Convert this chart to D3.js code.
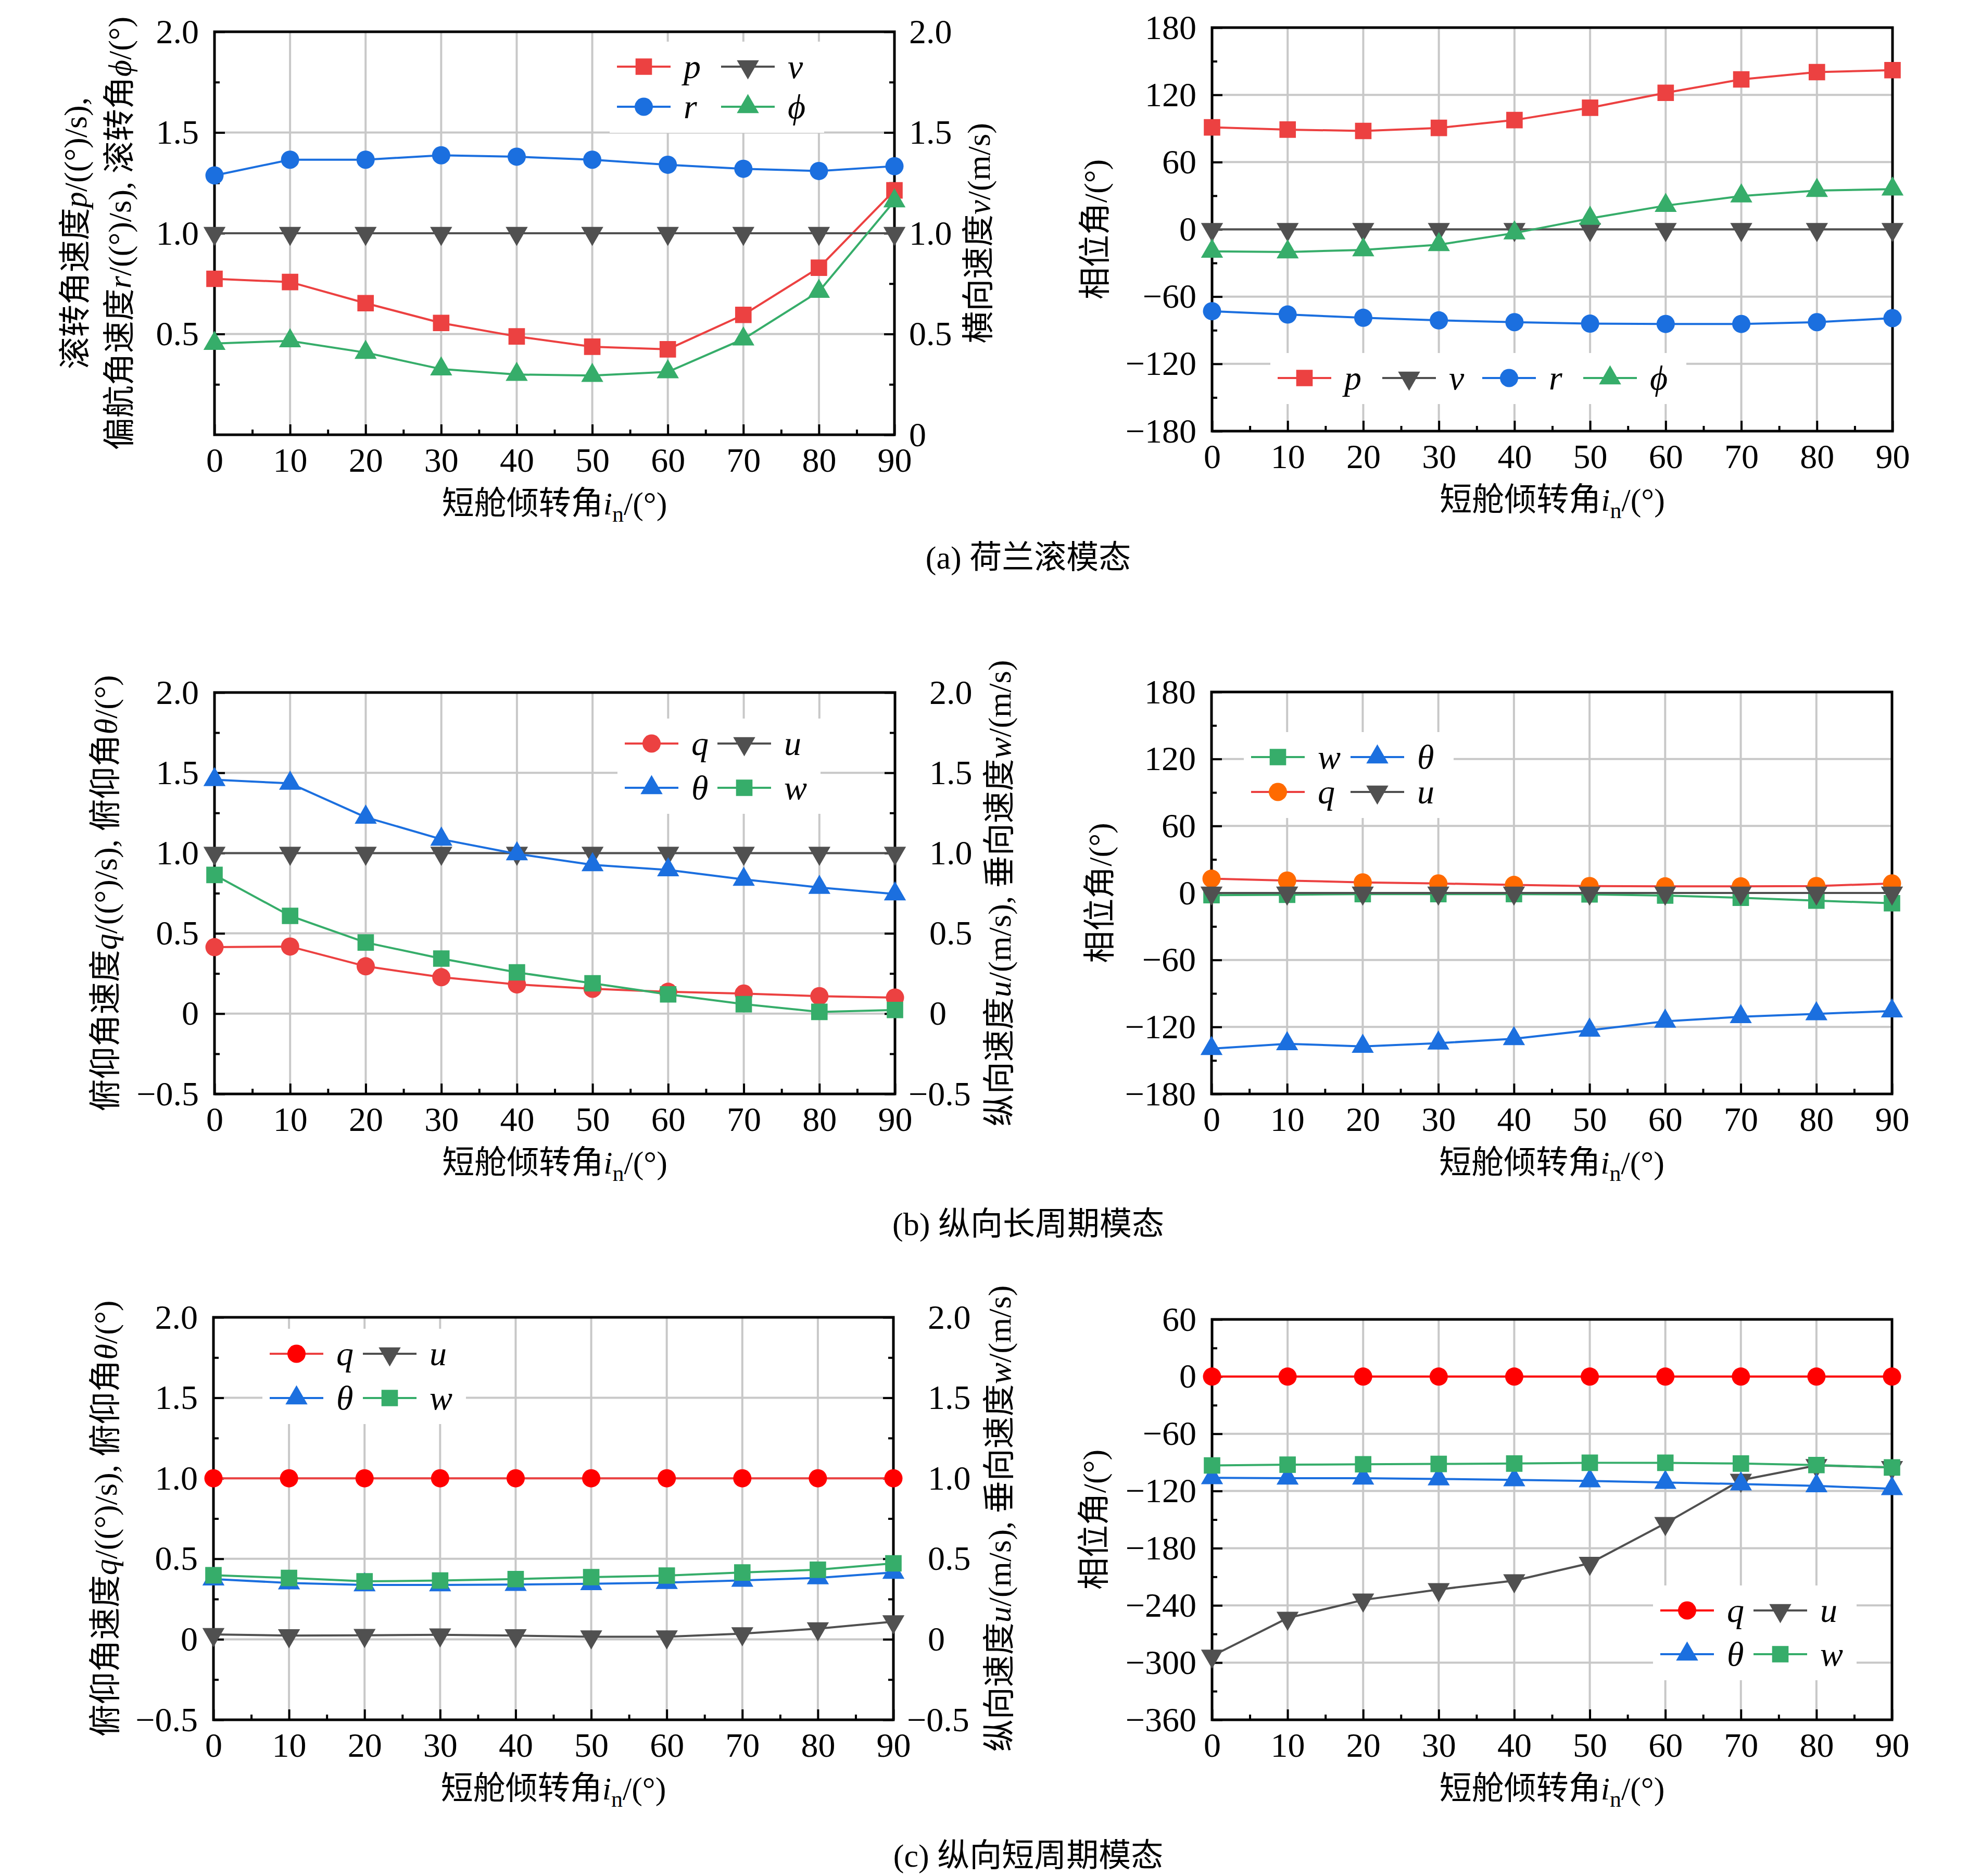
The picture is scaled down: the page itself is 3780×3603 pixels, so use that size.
<!DOCTYPE html>
<html>
<head>
<meta charset="utf-8">
<script src="https://cdn.jsdelivr.net/npm/d3@7"></script>
<style>
  body { margin: 0; background: #fff; }
</style>
</head>
<body>
<div id="chart"></div>
<script>
// x values shared by every panel: nacelle tilt angle
var tiltAngles = [0, 10, 20, 30, 40, 50, 60, 70, 80, 90];
var xMinorTicks = [5, 15, 25, 35, 45, 55, 65, 75, 85];

// tick values
var dutchAmpLeftTicks = [0.5, 1.0, 1.5, 2.0];
var dutchAmpRightTicks = [0, 0.5, 1.0, 1.5, 2.0];
var dutchAmpMinor = [0.25, 0.75, 1.25, 1.75];
var ampTicks = [-0.5, 0, 0.5, 1.0, 1.5, 2.0];
var ampMinor = [-0.25, 0.25, 0.75, 1.25, 1.75];
var phaseTicks = [-180, -120, -60, 0, 60, 120, 180];
var phaseMinor = [-150, -90, -30, 30, 90, 150];
var spPhaseTicks = [-360, -300, -240, -180, -120, -60, 0, 60];
var spPhaseMinor = [-330, -270, -210, -150, -90, -30, 30];

// (a) dutch roll - amplitude
var drAmpP   = [0.774, 0.758, 0.653, 0.555, 0.488, 0.437, 0.424, 0.595, 0.829, 1.213];
var drAmpV   = [1.0, 1.0, 1.0, 1.0, 1.0, 1.0, 1.0, 1.0, 1.0, 1.0];
var drAmpR   = [1.287, 1.365, 1.365, 1.387, 1.380, 1.365, 1.340, 1.320, 1.309, 1.333];
var drAmpPhi = [0.453, 0.466, 0.408, 0.326, 0.299, 0.294, 0.312, 0.475, 0.711, 1.160];
// (a) dutch roll - phase
var drPhP   = [91.0, 89.0, 87.8, 90.5, 97.5, 108.5, 121.8, 133.8, 140.3, 142.0];
var drPhV   = [0, 0, 0, 0, 0, 0, 0, 0, 0, 0];
var drPhR   = [-73.0, -76.0, -78.9, -81.2, -82.8, -84.1, -84.4, -84.4, -82.8, -79.2];
var drPhPhi = [-19.6, -20.2, -18.3, -13.7, -3.3, 9.8, 21.2, 29.7, 34.6, 35.9];

// (b) phugoid - amplitude
var phAmpQ     = [0.414, 0.418, 0.295, 0.227, 0.182, 0.155, 0.136, 0.125, 0.109, 0.100];
var phAmpU     = [1.0, 1.0, 1.0, 1.0, 1.0, 1.0, 1.0, 1.0, 1.0, 1.0];
var phAmpTheta = [1.457, 1.434, 1.223, 1.086, 0.995, 0.927, 0.895, 0.836, 0.786, 0.745];
var phAmpW     = [0.864, 0.609, 0.443, 0.343, 0.257, 0.189, 0.120, 0.059, 0.011, 0.023];
// (b) phugoid - phase
var phPhW     = [-2.0, -1.6, -1.0, -1.0, -1.0, -1.3, -2.3, -4.3, -6.9, -9.2];
var phPhTheta = [-139.4, -135.1, -137.4, -134.5, -130.6, -123.0, -114.9, -110.9, -108.3, -105.7];
var phPhQ     = [12.8, 11.1, 9.5, 8.5, 7.2, 6.2, 5.9, 5.9, 6.2, 8.5];
var phPhU     = [0, 0, 0, 0, 0, 0, 0, 0, 0, 0];

// (c) short period - amplitude
var spAmpQ     = [1.0, 1.0, 1.0, 1.0, 1.0, 1.0, 1.0, 1.0, 1.0, 1.0];
var spAmpU     = [0.030, 0.023, 0.025, 0.028, 0.023, 0.016, 0.016, 0.035, 0.066, 0.110];
var spAmpTheta = [0.374, 0.350, 0.338, 0.338, 0.340, 0.345, 0.352, 0.366, 0.381, 0.415];
var spAmpW     = [0.398, 0.381, 0.360, 0.365, 0.374, 0.386, 0.396, 0.415, 0.432, 0.472];
// (c) short period - phase
var spPhQ     = [0, 0, 0, 0, 0, 0, 0, 0, 0, 0];
var spPhU     = [-293.1, -253.3, -234.3, -223.3, -214.0, -195.8, -154.0, -108.6, -93.2, -95.3];
var spPhTheta = [-106.2, -106.6, -106.6, -107.4, -108.3, -109.5, -111.1, -112.7, -114.7, -117.6];
var spPhW     = [-93.2, -92.4, -92.0, -91.6, -91.2, -90.4, -90.4, -91.2, -92.8, -95.3];

var W = 3780, H = 3603;
var FONT = "'Liberation Serif','Times New Roman','Noto Sans CJK SC',serif";
var RED = "#ec4141", BLUE = "#1b6fdf", GREEN = "#36ad6a", DARK = "#505050",
    PURE_RED = "#ff0000", ORANGE = "#ff6a00", GRID = "#c8c8c8";
var TICK_FS = 66, LABEL_FS = 62, LEGEND_FS = 66;

var ampFmt = function(d) { return d === 0 ? "0" : d3.format(".1f")(d); };
var phaseFmt = d3.format("d");

var svg = d3.select("#chart").append("svg")
    .attr("width", W).attr("height", H)
    .attr("viewBox", "0 0 " + W + " " + H)
    .style("font-family", FONT)
    .style("background", "#fff");

//marker shapes
function markerPath(kind) {
  var s = { circle: [d3.symbolCircle, 962], square: [d3.symbolSquare, 1000],
            up: [d3.symbolTriangle, 780], down: [d3.symbolTriangle, 780] }[kind];
  return d3.symbol().type(s[0]).size(s[1])();
}

//text with italic / subscript pieces
function richText(sel, parts) {
  parts.forEach(function(pt) {
    var t = sel.append("tspan").text(pt[0]);
    if (pt[1] === "i") t.style("font-style", "italic");
  });
  return sel;
}

function xLabel(sel) {
  sel.append("tspan").text("短舱倾转角");
  sel.append("tspan").style("font-style", "italic").text("i");
  sel.append("tspan").attr("font-size", 44).attr("dy", 14).text("n");
  sel.append("tspan").attr("dy", -14).text("/(°)");
}

function drawPanel(p) {
  var g = svg.append("g").attr("transform", "translate(" + p.x + "," + p.y + ")");
  var x = d3.scaleLinear().domain([0, 90]).range([0, p.w]);
  var y = d3.scaleLinear().domain(p.yDomain).range([p.h, 0]);
  var yR = d3.scaleLinear().domain(p.yDomain).range([p.h, 0]);

  // grid
  g.append("g").selectAll("line").data(tiltAngles.slice(1, -1)).join("line")
    .attr("x1", function(d){ return x(d); }).attr("x2", function(d){ return x(d); })
    .attr("y1", 0).attr("y2", p.h)
    .attr("stroke", GRID).attr("stroke-width", 4);
  g.append("g").selectAll("line")
    .data(p.grid.filter(function(d){ return d > p.yDomain[0] && d < p.yDomain[1]; }))
    .join("line")
    .attr("x1", 0).attr("x2", p.w)
    .attr("y1", function(d){ return y(d); }).attr("y2", function(d){ return y(d); })
    .attr("stroke", GRID).attr("stroke-width", 4);

  // axes, ticks inward
  var axes = [];
  axes.push(g.append("g").attr("transform", "translate(0," + p.h + ")")
    .call(d3.axisBottom(x).tickValues(tiltAngles).tickSizeInner(-20).tickSizeOuter(0)
      .tickPadding(24).tickFormat(d3.format("d"))));
  axes.push(g.append("g").attr("transform", "translate(0," + p.h + ")")
    .call(d3.axisBottom(x).tickValues(xMinorTicks).tickSizeInner(-10).tickSizeOuter(0).tickFormat("")));
  axes.push(g.append("g")
    .call(d3.axisLeft(y).tickValues(p.leftTicks).tickSizeInner(-20).tickSizeOuter(0)
      .tickPadding(30).tickFormat(p.fmt)));
  axes.push(g.append("g")
    .call(d3.axisLeft(y).tickValues(p.minor).tickSizeInner(-10).tickSizeOuter(0).tickFormat("")));
  if (p.rightTicks) {
    var ra = g.append("g").attr("transform", "translate(" + p.w + ",0)")
      .call(d3.axisRight(yR).tickValues(p.rightTicks).tickSizeInner(-20).tickSizeOuter(0)
        .tickPadding(p.rightPad).tickFormat(p.fmt));
    ra.selectAll("text").attr("dx", function(d){ return d < 0 ? -40 : 0; });
    axes.push(ra);
    axes.push(g.append("g").attr("transform", "translate(" + p.w + ",0)")
      .call(d3.axisRight(yR).tickValues(p.minor).tickSizeInner(-10).tickSizeOuter(0).tickFormat("")));
  }
  axes.forEach(function(a) {
    a.attr("font-family", FONT).attr("font-size", TICK_FS);
    a.select(".domain").remove();
    a.selectAll("line").attr("stroke", "#000").attr("stroke-width", 4);
    a.selectAll("text").attr("fill", "#000");
  });

  // frame
  g.append("rect").attr("width", p.w).attr("height", p.h)
    .attr("fill", "none").attr("stroke", "#000").attr("stroke-width", 5);

  // series
  p.series.forEach(function(s) {
    var ys = s.right ? yR : y;
    g.append("path").datum(s.values)
      .attr("fill", "none").attr("stroke", s.line || s.color).attr("stroke-width", 4)
      .attr("d", d3.line().x(function(d, i){ return x(tiltAngles[i]); }).y(function(d){ return ys(d); }));
    g.append("g").selectAll("path").data(s.values).join("path")
      .attr("d", markerPath(s.shape))
      .attr("transform", function(d, i) {
        return "translate(" + x(tiltAngles[i]) + "," + ys(d) + ")" + (s.shape === "down" ? " rotate(180)" : "");
      })
      .attr("fill", s.color);
  });

  // legend
  var lg = p.legend;
  var byName = {};
  p.series.forEach(function(s){ byName[s.name] = s; });
  var nRows = lg.rows.length;
  var lastCol = lg.cols[lg.cols.length - 1];
  g.append("rect")
    .attr("x", Math.max(lg.x - 14, 3))
    .attr("y", Math.max(lg.y - 48, 3))
    .attr("width", lastCol + 103 + 25 + 70 + 14)
    .attr("height", Math.min(lg.y + (nRows - 1) * lg.dy + 50, p.h - 3) - Math.max(lg.y - 48, 3))
    .attr("fill", "#fff");
  lg.rows.forEach(function(row, ri) {
    row.forEach(function(name, ci) {
      var s = byName[name];
      var lx = lg.x + lg.cols[ci], ly = lg.y + ri * lg.dy;
      g.append("line").attr("x1", lx).attr("x2", lx + 103).attr("y1", ly).attr("y2", ly)
        .attr("stroke", s.line || s.color).attr("stroke-width", 4);
      g.append("path").attr("d", markerPath(s.shape))
        .attr("transform", "translate(" + (lx + 51.5) + "," + ly + ")" + (s.shape === "down" ? " rotate(180)" : ""))
        .attr("fill", s.color);
      g.append("text").attr("x", lx + 128).attr("y", ly + 22)
        .attr("font-size", LEGEND_FS).style("font-style", "italic")
        .text(s.label);
    });
  });

  // axis titles
  g.append("text").attr("x", p.w / 2).attr("y", p.h + 153)
    .attr("text-anchor", "middle").attr("font-size", LABEL_FS)
    .call(xLabel);
  p.yTitles.forEach(function(t) {
    g.append("text")
      .attr("transform", "translate(" + t.dx + "," + (p.h / 2) + ") rotate(-90)")
      .attr("text-anchor", "middle").attr("dominant-baseline", "central")
      .attr("font-size", LABEL_FS)
      .call(richText, t.parts);
  });
}

var panels = [
  { x: 412, y: 61, w: 1306, h: 774, yDomain: [0, 2], fmt: ampFmt,
    grid: dutchAmpRightTicks, leftTicks: dutchAmpLeftTicks, rightTicks: dutchAmpRightTicks,
    minor: dutchAmpMinor, rightPad: 28,
    series: [
      { name: "p", label: "p", shape: "square", color: RED, values: drAmpP },
      { name: "v", label: "v", shape: "down", color: DARK, values: drAmpV, right: true },
      { name: "r", label: "r", shape: "circle", color: BLUE, values: drAmpR },
      { name: "phi", label: "ϕ", shape: "up", color: GREEN, values: drAmpPhi }
    ],
    legend: { x: 773, y: 67, dy: 77, cols: [0, 200], rows: [["p", "v"], ["r", "phi"]] },
    yTitles: [
      { dx: -267, parts: [["滚转角速度"], ["p", "i"], ["/((°)/s),"]] },
      { dx: -182, parts: [["偏航角速度"], ["r", "i"], ["/((°)/s), 滚转角"], ["ϕ", "i"], ["/(°)"]] },
      { dx: 1468, parts: [["横向速度"], ["v", "i"], ["/(m/s)"]] }
    ] },
  { x: 2328, y: 53, w: 1307, h: 775, yDomain: [-180, 180], fmt: phaseFmt,
    grid: phaseTicks, leftTicks: phaseTicks, minor: phaseMinor,
    series: [
      { name: "p", label: "p", shape: "square", color: RED, values: drPhP },
      { name: "v", label: "v", shape: "down", color: DARK, values: drPhV },
      { name: "r", label: "r", shape: "circle", color: BLUE, values: drPhR },
      { name: "phi", label: "ϕ", shape: "up", color: GREEN, values: drPhPhi }
    ],
    legend: { x: 126, y: 673, dy: 0, cols: [0, 201, 393, 587], rows: [["p", "v", "r", "phi"]] },
    yTitles: [{ dx: -224, parts: [["相位角/(°)"]] }] },
  { x: 412, y: 1330, w: 1307, h: 771, yDomain: [-0.5, 2], fmt: ampFmt,
    grid: ampTicks, leftTicks: ampTicks, rightTicks: ampTicks, minor: ampMinor, rightPad: 66,
    series: [
      { name: "q", label: "q", shape: "circle", color: RED, values: phAmpQ },
      { name: "u", label: "u", shape: "down", color: DARK, values: phAmpU, right: true },
      { name: "theta", label: "θ", shape: "up", color: BLUE, values: phAmpTheta },
      { name: "w", label: "w", shape: "square", color: GREEN, values: phAmpW, right: true }
    ],
    legend: { x: 788, y: 98, dy: 85, cols: [0, 178], rows: [["q", "u"], ["theta", "w"]] },
    yTitles: [
      { dx: -209, parts: [["俯仰角速度"], ["q", "i"], ["/((°)/s), 俯仰角"], ["θ", "i"], ["/(°)"]] },
      { dx: 1508, parts: [["纵向速度"], ["u", "i"], ["/(m/s), 垂向速度"], ["w", "i"], ["/(m/s)"]] }
    ] },
  { x: 2327, y: 1329, w: 1307, h: 772, yDomain: [-180, 180], fmt: phaseFmt,
    grid: phaseTicks, leftTicks: phaseTicks, minor: phaseMinor,
    series: [
      { name: "w", label: "w", shape: "square", color: GREEN, values: phPhW },
      { name: "theta", label: "θ", shape: "up", color: BLUE, values: phPhTheta },
      { name: "q", label: "q", shape: "circle", color: ORANGE, line: RED, values: phPhQ },
      { name: "u", label: "u", shape: "down", color: DARK, values: phPhU }
    ],
    legend: { x: 76, y: 125, dy: 67, cols: [0, 191], rows: [["w", "theta"], ["q", "u"]] },
    yTitles: [{ dx: -214, parts: [["相位角/(°)"]] }] },
  { x: 410, y: 2530, w: 1306, h: 773, yDomain: [-0.5, 2], fmt: ampFmt,
    grid: ampTicks, leftTicks: ampTicks, rightTicks: ampTicks, minor: ampMinor, rightPad: 66,
    series: [
      { name: "q", label: "q", shape: "circle", color: PURE_RED, line: RED, values: spAmpQ },
      { name: "u", label: "u", shape: "down", color: DARK, values: spAmpU, right: true },
      { name: "theta", label: "θ", shape: "up", color: BLUE, values: spAmpTheta },
      { name: "w", label: "w", shape: "square", color: GREEN, values: spAmpW, right: true }
    ],
    legend: { x: 108, y: 70, dy: 85, cols: [0, 179], rows: [["q", "u"], ["theta", "w"]] },
    yTitles: [
      { dx: -207, parts: [["俯仰角速度"], ["q", "i"], ["/((°)/s), 俯仰角"], ["θ", "i"], ["/(°)"]] },
      { dx: 1510, parts: [["纵向速度"], ["u", "i"], ["/(m/s), 垂向速度"], ["w", "i"], ["/(m/s)"]] }
    ] },
  { x: 2328, y: 2534, w: 1306, h: 769, yDomain: [-360, 60], fmt: phaseFmt,
    grid: spPhaseTicks, leftTicks: spPhaseTicks, minor: spPhaseMinor,
    series: [
      { name: "q", label: "q", shape: "circle", color: PURE_RED, values: spPhQ },
      { name: "u", label: "u", shape: "down", color: DARK, values: spPhU },
      { name: "theta", label: "θ", shape: "up", color: BLUE, values: spPhTheta },
      { name: "w", label: "w", shape: "square", color: GREEN, values: spPhW }
    ],
    legend: { x: 861, y: 559, dy: 84, cols: [0, 179], rows: [["q", "u"], ["theta", "w"]] },
    yTitles: [{ dx: -226, parts: [["相位角/(°)"]] }] }
];

panels.forEach(drawPanel);

// sub-figure captions
var captions = [
  { text: "(a) 荷兰滚模态", y: 1092 },
  { text: "(b) 纵向长周期模态", y: 2372 },
  { text: "(c) 纵向短周期模态", y: 3585 }
];
svg.selectAll("text.caption").data(captions).join("text")
  .attr("class", "caption")
  .attr("x", 1975).attr("y", function(d){ return d.y; })
  .attr("text-anchor", "middle").attr("font-size", LABEL_FS)
  .text(function(d){ return d.text; });
</script>
</body>
</html>
